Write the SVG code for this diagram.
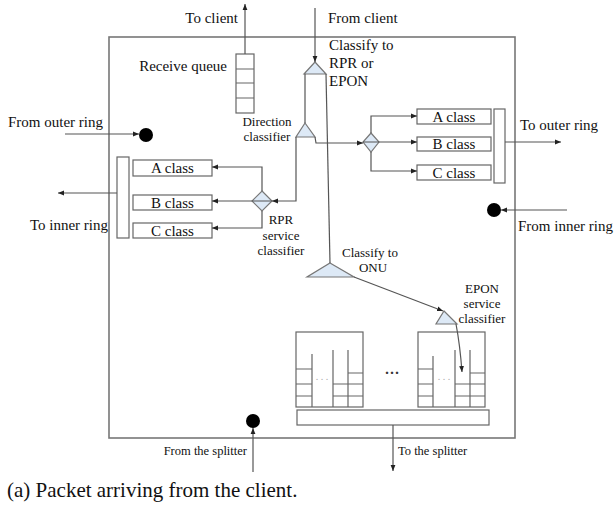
<svg xmlns="http://www.w3.org/2000/svg" width="616" height="508" viewBox="0 0 616 508">
<style>
text{font-family:"Liberation Serif","Times New Roman",serif;fill:#111}
.t15{font-size:15px}
.t13{font-size:13px}
.t12{font-size:12.5px}
.box{fill:#fff;stroke:#666;stroke-width:1.2}
.ln{fill:none;stroke:#666;stroke-width:1.2}
.con{fill:none;stroke:#555;stroke-width:1.2}
.tri{fill:#dde9f6;stroke:#777;stroke-width:1.2}
.dot{fill:#000}
</style>
<defs>
<marker id="ah" viewBox="0 0 10 10" refX="10" refY="5" markerWidth="6" markerHeight="6" orient="auto" markerUnits="userSpaceOnUse">
<path d="M0,1 L10,5 L0,9 z" fill="#222"/>
</marker>
</defs>
<rect width="616" height="508" fill="#fff"/>
<g id="frame"><rect x="109" y="37" width="406" height="401" fill="none" stroke="#777" stroke-width="1.6"/></g>

<g id="receive-queue">
<rect class="box" x="236" y="54" width="18" height="59"/>
<path class="ln" d="M236 69H254M236 83H254M236 98H254"/>
<text class="t15" x="227" y="71" text-anchor="end">Receive queue</text>
</g>

<g id="classify-rpr-epon">
<path class="tri" d="M315 62L326 74L304 74Z"/>
<text class="t15" x="329" y="50">Classify to</text>
<text class="t15" x="329" y="68">RPR or</text>
<text class="t15" x="329" y="86">EPON</text>
</g>

<g id="direction-classifier">
<path class="tri" d="M305 123L315 137L296 137Z"/>
<text class="t13" x="267" y="126" text-anchor="middle">Direction</text>
<text class="t13" x="267" y="141" text-anchor="middle">classifier</text>
</g>

<g id="outer-classifier">
<path class="tri" d="M371 133L379 142L371 152L363 142Z"/>
</g>

<g id="outer-classes">
<rect class="box" x="417" y="109" width="74" height="15"/>
<text class="t15" x="454" y="121.5" text-anchor="middle">A class</text>
<rect class="box" x="417" y="137" width="74" height="14"/>
<text class="t15" x="454" y="149" text-anchor="middle">B class</text>
<rect class="box" x="417" y="165" width="74" height="15"/>
<text class="t15" x="454" y="177.5" text-anchor="middle">C class</text>
<rect class="box" x="494" y="109" width="11" height="74"/>
<text class="t15" x="520" y="130">To outer ring</text>
</g>

<g id="rpr-classifier">
<path class="tri" d="M262 191L272 201L262 211L252 201Z"/>
<text class="t13" x="281" y="224" text-anchor="middle">RPR</text>
<text class="t13" x="281" y="240" text-anchor="middle">service</text>
<text class="t13" x="281" y="255" text-anchor="middle">classifier</text>
</g>

<g id="inner-classes">
<rect class="box" x="133" y="160" width="79" height="16"/>
<text class="t15" x="172.5" y="173" text-anchor="middle">A class</text>
<rect class="box" x="133" y="195" width="79" height="15"/>
<text class="t15" x="172.5" y="207.5" text-anchor="middle">B class</text>
<rect class="box" x="133" y="223" width="79" height="15"/>
<text class="t15" x="172.5" y="235.5" text-anchor="middle">C class</text>
<rect class="box" x="117" y="157" width="12" height="81"/>
<text class="t15" x="108" y="230" text-anchor="end">To inner ring</text>
</g>

<g id="classify-onu">
<path class="tri" d="M330 263L354 277L307 277Z"/>
<text class="t13" x="370" y="257" text-anchor="middle">Classify to</text>
<text class="t13" x="373" y="272" text-anchor="middle">ONU</text>
</g>

<g id="epon-classifier">
<path class="tri" d="M444 311L457 324L436 324Z"/>
<text class="t13" x="482" y="293" text-anchor="middle">EPON</text>
<text class="t13" x="482" y="308" text-anchor="middle">service</text>
<text class="t13" x="482" y="323" text-anchor="middle">classifier</text>
</g>

<g id="onu-queues-1">
<rect class="box" x="296" y="332" width="67" height="75"/>
<path class="ln" d="M312 354V407M333 350V407M348 350V407"/>
<path class="ln" d="M296 369H312M296 384H312M296 396H312M333 384H348M333 396H348M348 373H363M348 384H363M348 396H363"/>
<text x="322" y="380" text-anchor="middle" style="font-size:10px;fill:#aaa">. . .</text>
</g>

<g id="onu-queues-2">
<rect class="box" x="418" y="332" width="67" height="75"/>
<path class="ln" d="M433 356V407M455 350V407M470 350V407"/>
<path class="ln" d="M418 369H433M418 384H433M418 396H433M455 384H470M455 396H470M470 373H485M470 384H485M470 396H485"/>
<text x="444" y="380" text-anchor="middle" style="font-size:10px;fill:#aaa">. . .</text>
</g>
<text x="392" y="378" text-anchor="middle" style="font-size:15px;font-weight:bold;fill:#333">···</text>

<g id="splitter-bar"><rect class="box" x="297" y="410" width="192" height="15"/></g>

<g id="dot-outer"><circle class="dot" cx="146" cy="135" r="7"/><text class="t15" x="8" y="127">From outer ring</text></g>
<g id="dot-inner"><circle class="dot" cx="494" cy="210" r="7"/><text class="t15" x="518" y="231">From inner ring</text></g>
<g id="dot-splitter"><circle class="dot" cx="253" cy="421" r="7"/><text class="t12" x="247" y="455" text-anchor="end">From the splitter</text></g>

<text class="t15" x="238" y="23" text-anchor="end">To client</text>
<text class="t15" x="328" y="23">From client</text>
<text class="t12" x="398" y="455">To the splitter</text>
<text x="7" y="497" style="font-size:21px">(a) Packet arriving from the client.</text>

<g id="connectors">
<path class="con" d="M245 54V4" marker-end="url(#ah)"/>
<path class="con" d="M315 8V62" marker-end="url(#ah)"/>
<path class="con" d="M305 74V123"/>
<path class="con" d="M326 74L330 263"/>
<path class="con" d="M315 137L316 143H363" marker-end="url(#ah)"/>
<path class="con" d="M371 133V116H417" marker-end="url(#ah)"/>
<path class="con" d="M363 142H417" marker-end="url(#ah)"/>
<path class="con" d="M371 152V171H417" marker-end="url(#ah)"/>
<path class="con" d="M505 142H561" marker-end="url(#ah)"/>
<path class="con" d="M296 137V201H272" marker-end="url(#ah)"/>
<path class="con" d="M262 191V167H212" marker-end="url(#ah)"/>
<path class="con" d="M272 201H212" marker-end="url(#ah)"/>
<path class="con" d="M262 211V228H212" marker-end="url(#ah)"/>
<path class="con" d="M117 193H58" marker-end="url(#ah)"/>
<path class="con" d="M65 134H139" marker-end="url(#ah)"/>
<path class="con" d="M567 210H501" marker-end="url(#ah)"/>
<path class="con" d="M354 277L443 311" marker-end="url(#ah)"/>
<path class="con" d="M456 324Q460 345 462 372" marker-end="url(#ah)"/>
<path class="con" d="M393 425V471" marker-end="url(#ah)"/>
<path class="con" d="M253 472V428" marker-end="url(#ah)"/>
</g>
</svg>
